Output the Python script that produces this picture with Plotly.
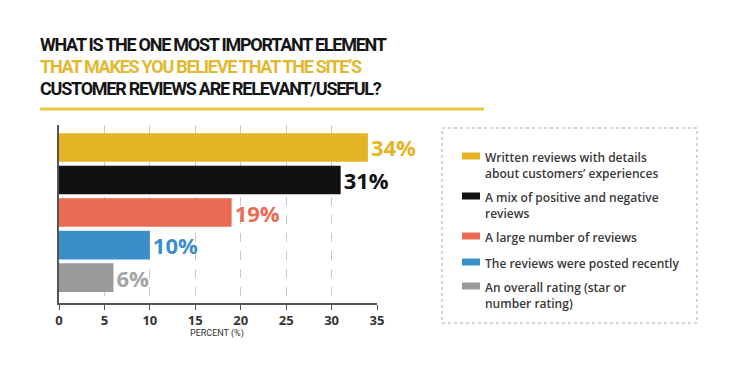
import plotly.graph_objects as go

categories = [
    "Written reviews with details<br>about customers’ experiences",
    "A mix of positive and negative<br>reviews",
    "A large number of reviews",
    "The reviews were posted recently",
    "An overall rating (star or<br>number rating)",
]
values = [34, 31, 19, 10, 6]
colors = ["#E4B423", "#111111", "#EA6A53", "#3B8FC9", "#9A9A9C"]
label_colors = ["#E4B423", "#111111", "#EA6A53", "#3B8FC9", "#A3A3A5"]
x_ticks = [0, 5, 10, 15, 20, 25, 30, 35]
title_lines = [
    ("WHAT IS THE ONE MOST IMPORTANT ELEMENT", "#151515"),
    ("THAT MAKES YOU BELIEVE THAT THE SITE’S", "#E2B830"),
    ("CUSTOMER REVIEWS ARE RELEVANT/USEFUL?", "#151515"),
]

W, H = 750, 388
L, R, T, B = 59, 377, 125, 303

def px(x):
    return (x - L) / (R - L)

def py(y):
    return (B - y) / (B - T)

COND = "Roboto, Liberation Sans, sans-serif"
BODY = "Open Sans, Noto Sans, sans-serif"

fig = go.Figure()
fig.add_trace(go.Bar(
    x=values,
    y=list(range(len(values))),
    orientation="h",
    marker=dict(color=colors, line=dict(width=0)),
    text=[f"{v}%" for v in values],
    textposition="outside",
    textfont=dict(family=BODY, size=22, color=label_colors, weight="bold"),
    cliponaxis=False,
    constraintext="none",
    showlegend=False,
    hoverinfo="skip",
))

annotations = []
for i, (txt, col) in enumerate(title_lines):
    annotations.append(dict(
        text=f'<span style="letter-spacing:-1.25px">{txt}</span>',
        xref="paper", yref="paper", x=px(39), y=py(44.5 + 22 * i),
        xanchor="left", yanchor="middle", showarrow=False, borderpad=0,
        font=dict(family=COND, size=18, color=col, weight="bold"),
    ))
annotations.append(dict(
    text="PERCENT (%)", xref="paper", yref="paper", x=px(217), y=py(333),
    xanchor="center", yanchor="middle", showarrow=False,
    font=dict(family=COND, size=9, color="#333333"),
))

shapes = [
    dict(type="line", xref="paper", yref="paper", x0=px(40), x1=px(484),
         y0=py(109), y1=py(109), line=dict(color="#E6C543", width=3)),
    dict(type="rect", xref="paper", yref="paper", x0=px(442), x1=px(697),
         y0=py(128), y1=py(323), line=dict(color="#C8C8C8", width=1.5, dash="dot")),
]
item_centers = [156, 196, 236, 262, 286]
for i, cat in enumerate(categories):
    c = item_centers[i]
    shapes.append(dict(type="rect", xref="paper", yref="paper",
                       x0=px(462), x1=px(480), y0=py(c - 3.5), y1=py(c + 3.5),
                       fillcolor=colors[i], line=dict(width=0)))
    annotations.append(dict(
        text=cat, xref="paper", yref="paper", x=px(484), y=py(c - 7.8),
        xanchor="left", yanchor="top", align="left", showarrow=False, borderpad=0,
        font=dict(family=BODY, size=12, color="#3A3A3A", weight=600),
    ))

fig.update_layout(
    width=W, height=H,
    margin=dict(l=L, r=W - R, t=T, b=H - B, pad=0),
    paper_bgcolor="white", plot_bgcolor="white",
    bargap=0.12,
    xaxis=dict(range=[0, 35], tickvals=x_ticks, showgrid=True,
               gridcolor="#C9C9C9", griddash="dash", gridwidth=1,
               showline=True, linecolor="#555555", linewidth=1.5,
               ticks="outside", ticklen=5, tickcolor="#555555",
               tickfont=dict(family=BODY, size=13, color="#333333", weight="bold"),
               zeroline=False, fixedrange=True),
    yaxis=dict(range=[4.78, -0.69], showticklabels=False, showgrid=False,
               showline=True, linecolor="#555555", linewidth=1.5,
               zeroline=False, fixedrange=True),
    annotations=annotations,
    shapes=shapes,
    showlegend=False,
)

fig.write_html("out.html", config={"displayModeBar": False},
               post_script="document.body.style.margin='0';")
